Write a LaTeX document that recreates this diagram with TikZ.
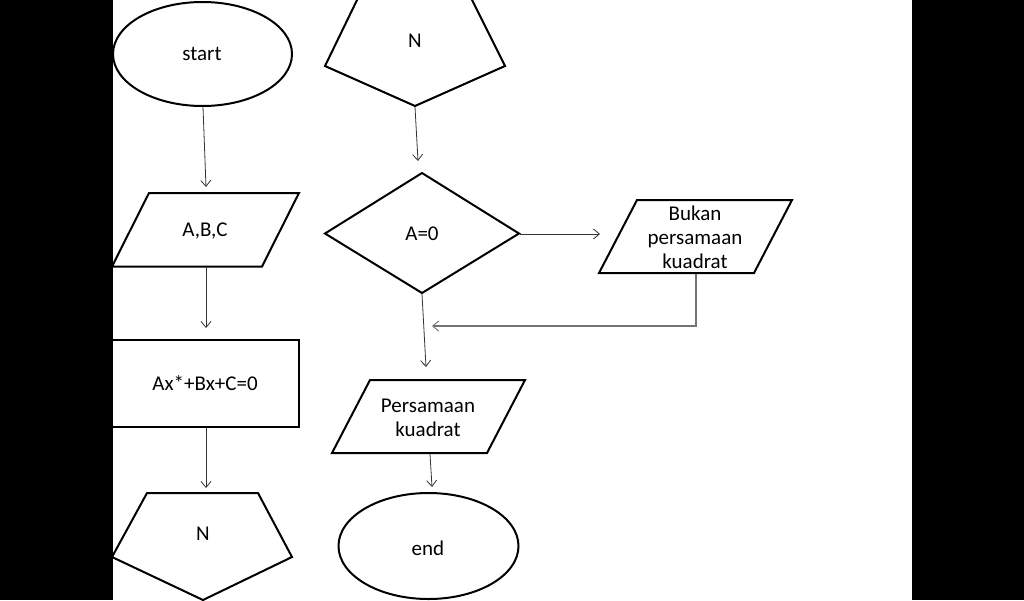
\documentclass[tikz,border=0pt]{standalone}
\usepackage{fontspec}
\setmainfont{Carlito}
\usetikzlibrary{arrows.meta}
\begin{document}
\begin{tikzpicture}[x=1pt,y=-1pt,
  shapeline/.style={draw=black,line width=2pt,line join=miter},
  conn/.style={draw=black!80,line width=0.8pt,-{Straight Barb[length=6pt,width=10pt,line width=0.8pt]}},
  grayconn/.style={draw=black!55,line width=1.2pt,-{Straight Barb[length=6pt,width=10pt,line width=0.9pt]}},
  lbl/.style={font=\fontsize{21}{24}\selectfont,align=center,inner sep=0pt}]
\useasboundingbox (0,0) rectangle (1024,600);
\fill[black] (0,0) rectangle (1024,600);
\fill[white] (113,0) rectangle (912,600);
\begin{scope}
\clip (113,0) rectangle (912,600);
% shapes
\draw[shapeline] (202.5,54) ellipse [x radius=89.5, y radius=52];
\draw[shapeline] (149,193) -- (299,193) -- (262,266.5) -- (112,266.5) -- cycle;
\draw[shapeline] (112,340) rectangle (299,427);
\draw[shapeline] (147,493) -- (258,493) -- (292,557) -- (203,600) -- (112,557) -- cycle;
\draw[shapeline] (358,-2) -- (471,-2) -- (505,66) -- (415,106) -- (325,66) -- cycle;
\draw[shapeline] (422,173) -- (519,233.5) -- (422,293) -- (325,233.5) -- cycle;
\draw[shapeline] (637,200) -- (792,200) -- (754,273) -- (599,273) -- cycle;
\draw[shapeline] (370,380) -- (525,380) -- (487,453) -- (332,453) -- cycle;
\draw[shapeline] (428.5,546) ellipse [x radius=90, y radius=53];
\end{scope}
% labels
\node[lbl] (start) at (202,54) {start};
\node[lbl] (abc) at (205,231) {A,B,C};
\node[lbl] (eq) at (205,383) {Ax*+Bx+C=0};
\node[lbl] (n1) at (203,534) {N};
\node[lbl] (n2) at (415,41) {N};
\node[lbl] (a0) at (422,234) {A=0};
\node[lbl] (bukan) at (695,237) {Bukan\\persamaan\\kuadrat};
\node[lbl] (pk) at (428,418) {Persamaan\\kuadrat};
\node[lbl] (end) at (428,548) {end};
% connector endpoints
\coordinate (s1) at (203,107);  \coordinate (e1) at (206,187);
\coordinate (s2) at (206,267);  \coordinate (e2) at (206,328);
\coordinate (s3) at (206,428);  \coordinate (e3) at (206,488);
\coordinate (s4) at (415,107);  \coordinate (e4) at (418,161);
\coordinate (s5) at (520,234);  \coordinate (e5) at (600,234);
\coordinate (s6) at (422,294);  \coordinate (e6) at (426,367);
\coordinate (s7) at (696,274);  \coordinate (k7) at (696,326);  \coordinate (e7) at (432,326);
\coordinate (s8) at (430,454);  \coordinate (e8) at (432,487);
\draw[conn] (s1) -- (e1);
\draw[conn] (s2) -- (e2);
\draw[conn] (s3) -- (e3);
\draw[conn] (s4) -- (e4);
\draw[conn] (s5) -- (e5);
\draw[conn] (s6) -- (e6);
\draw[grayconn] (s7) -- (k7) -- (e7);
\draw[conn] (s8) -- (e8);
\end{tikzpicture}
\end{document}
